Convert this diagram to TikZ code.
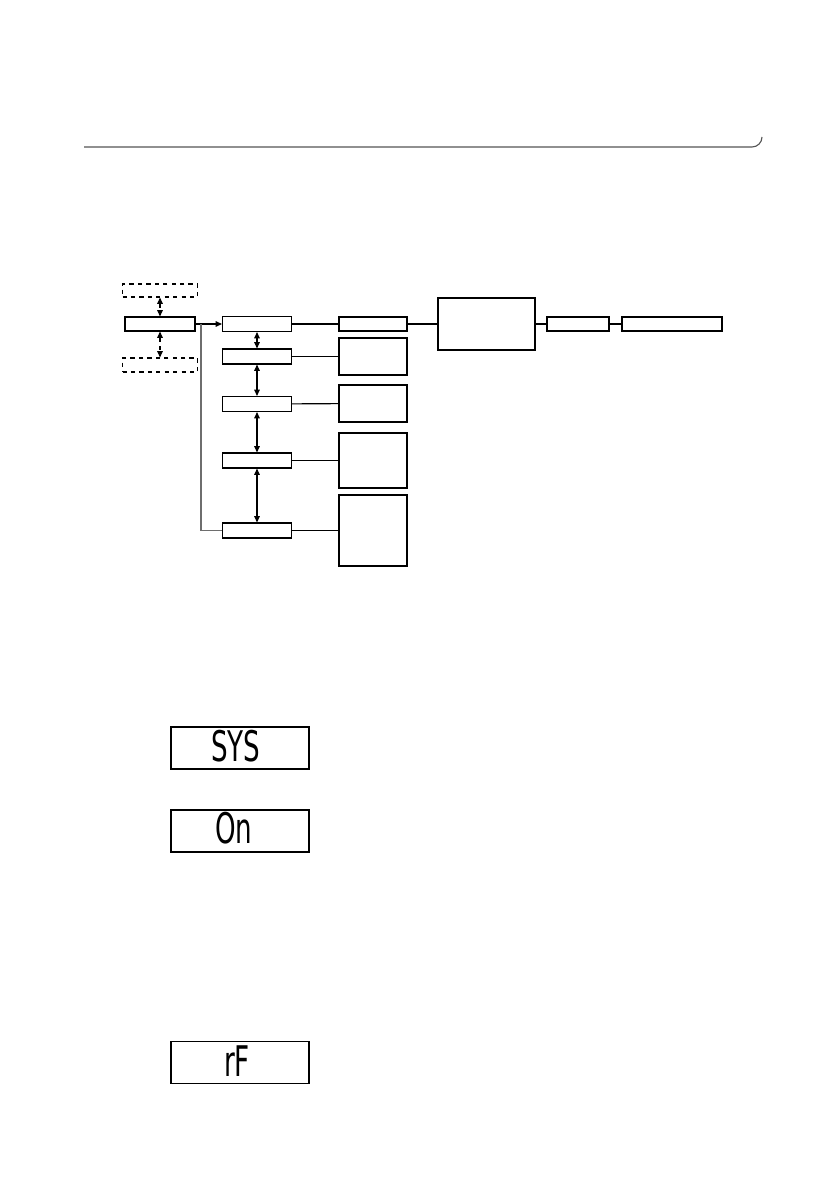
\documentclass[tikz,border=0pt]{standalone}
\usepackage{xcolor}
\usepackage{fontspec}
\usetikzlibrary{arrows.meta}

\newfontfamily\lcdfont{DejaVu Sans}

\begin{document}
\begin{tikzpicture}[x=0.025cm, y=-0.025cm,
  box/.style={draw, line width=0.8pt, inner sep=0pt, minimum height=15*0.025cm},
  dbox/.style={box, dashed},
  link/.style={line width=0.8pt},
  dlink/.style={line width=0.8pt, {Triangle[length=4.5pt,width=4pt]}-{Triangle[length=4.5pt,width=4pt]}},
  lcd/.style={draw, line width=1pt, inner sep=0pt, minimum width=138*0.025cm, minimum height=42*0.025cm},
  lcdtext/.style={anchor=west, inner sep=0pt, font=\lcdfont\fontsize{30}{30}\selectfont, xscale=0.62, transform shape}]

% Colori
\definecolor{lineGray}{HTML}{6E6E6E}
\definecolor{ruleGray}{HTML}{555555}

% Pagina
\useasboundingbox (0,0) rectangle (838,1190);

% Riga in alto
\draw[ruleGray, line width=0.8pt] (84,147) -- (752,147) arc[start angle=90, end angle=0, radius=10];

% Menu principale
\node[box, minimum width=70*0.025cm, minimum height=14*0.025cm] (main) at (160,324) {};
\node[dbox, minimum width=75*0.025cm, minimum height=13*0.025cm] (dtop) at (160,290.5) {};
\node[dbox, minimum width=75*0.025cm, minimum height=14*0.025cm] (dbot) at (160,365) {};

\draw[dlink, dashed] (dtop) -- (main);
\draw[dlink, dashed] (main) -- (dbot);

% Colonna dei parametri
\node[box, minimum width=69*0.025cm] (b1) at (257,324) {};
\node[box, minimum width=69*0.025cm] (b2) at (257,356.5) {};
\node[box, minimum width=69*0.025cm] (b3) at (257,404) {};
\node[box, minimum width=69*0.025cm] (b4) at (257,460.5) {};
\node[box, minimum width=69*0.025cm] (b5) at (257,530.5) {};

\draw[link, -{Triangle[length=4.5pt,width=4pt]}] (main) -- (b1);
\coordinate (fork) at (201,324);
\draw[lineGray, line width=0.8pt] (fork) |- (b5.west);

\draw[dlink] (b1) -- (b2);
\draw[dlink] (b2) -- (b3);
\draw[dlink] (b3) -- (b4);
\draw[dlink] (b4) -- (b5);

% Valori
\node[box, minimum width=68*0.025cm, minimum height=14*0.025cm] (r1) at (373,324) {};
\node[box, minimum width=68*0.025cm, minimum height=37*0.025cm] (r2) at (373,356.5) {};
\node[box, minimum width=68*0.025cm, minimum height=37*0.025cm] (r3) at (373,403.5) {};
\node[box, minimum width=68*0.025cm, minimum height=55*0.025cm] (r4) at (373,460.5) {};
\node[box, minimum width=68*0.025cm, minimum height=71*0.025cm] (r5) at (373,530.5) {};

\foreach \i in {1,...,5}
  \draw[link] (b\i) -- (r\i);

% Catena a destra
\node[box, minimum width=97*0.025cm, minimum height=52*0.025cm] (big) at (486.5,324) {};
\node[box, minimum width=62*0.025cm, minimum height=14*0.025cm] (r6) at (578,324) {};
\node[box, minimum width=100*0.025cm, minimum height=14*0.025cm] (r7) at (672,324) {};

\draw[link] (r1) -- (big);
\draw[link] (big) -- (r6);
\draw[link] (r6) -- (r7);

% Display
\node[lcd] (lcdA) at (240,748) {};
\node[lcdtext] (sys) at (211,746) {SYS};
\node[lcd] (lcdB) at (240,831) {};
\node[lcdtext] (on) at (215,828) {On};
\node[lcd] (lcdC) at (240,1062.5) {};
\node[lcdtext] (rf) at (224,1061) {rF};

\end{tikzpicture}
\end{document}
